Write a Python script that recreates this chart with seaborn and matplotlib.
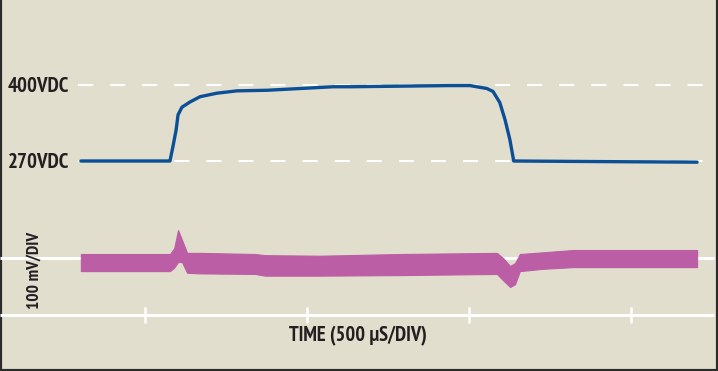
import numpy as np
import pandas as pd
import matplotlib
matplotlib.use("Agg")
import matplotlib.pyplot as plt
from matplotlib import font_manager as fm
import seaborn as sns

# ---- data ----
# Upper trace: DC bus voltage (V) vs time (us)
volt_time = [302, 577, 586, 596, 602, 614, 639, 670, 722, 784, 877, 979, 1081, 1134,
             1287, 1441, 1503, 1555, 1574, 1595, 1611, 1626, 1638, 1904, 2204]
volt_value = [270, 270, 294, 323, 349, 362, 371, 380, 386, 390, 391, 394, 397, 397,
              398, 399, 399, 394, 389, 370, 341, 307, 270, 269, 268]

# Lower trace: ripple (mV) vs time (us), upper and lower envelope of the noisy band
ripple_time = [302, 577, 590, 602, 614, 630, 670, 840, 870, 1040, 1287, 1586, 1605,
               1627, 1642, 1657, 1728, 1821, 2204]
ripple_upper = [7, 7, 17, 49, 32, 9, 9, 7, 5, 4, 7, 9, 0, -14, -9, 7, 10, 14, 14]
ripple_lower = [-23, -23, -17, -7, -7, -26, -27, -28, -31, -31, -30, -28, -39,
                -51, -46, -23, -19, -16, -16]

ref_levels = [400, 270]
ref_labels = ["400VDC", "270VDC"]
time_ticks = [500, 1000, 1500, 2000]
y_label = "100 mV/DIV"
x_label = "TIME (500 \u03bcS/DIV)"

BG = "#E2DECD"
BLUE = "#0B5096"
PINK = "#BC5EA5"
TXT = "#231F20"

sns.set_theme(style="white")
plt.rcParams["font.family"] = ["DejaVu Sans"]


def pick_condensed_bold():
    best = None
    for f in fm.fontManager.ttflist:
        name = f.name.lower()
        st = f.stretch
        if isinstance(st, str):
            st = fm.stretch_dict.get(st, 500)
        w = f.weight
        if isinstance(w, str):
            w = fm.weight_dict.get(w, 400)
        narrow = ("narrow" in name or "condensed" in name or st < 500)
        if not narrow or w < 600 or "italic" in f.style or "oblique" in f.style:
            continue
        if "mono" in name or "serif" in name.replace("sans", ""):
            continue
        if "cjk" in name:
            continue
        score = abs(st - 300) + abs(w - 700) / 10.0
        if "narrow" in name:
            score -= 300
        if best is None or score < best[0]:
            best = (score, f.fname)
    if best is None:
        return fm.FontProperties(family="DejaVu Sans", weight="bold")
    return fm.FontProperties(fname=best[1])


FP = pick_condensed_bold()


def fp(size):
    p = FP.copy()
    p.set_size(size)
    return p


fig = plt.figure(figsize=(7.18, 3.71), dpi=100, facecolor=BG)
ax = fig.add_axes([0, 0, 1, 1])
ax2 = fig.add_axes([0, 0, 1, 1], sharex=ax)
ax.set_facecolor(BG)
ax2.patch.set_visible(False)

# pixel-derived scales
us_per_px = 500 / 162.0
t0 = 500 - 145 * us_per_px
ax.set_xlim(t0, t0 + 718 * us_per_px)
v_per_px = 130 / 76.0
ax.set_ylim(270 - 210 * v_per_px, 270 + 161 * v_per_px)
mv_per_px = 100 / 57.0
ax2.set_ylim(-113 * mv_per_px, 258 * mv_per_px)

# dashed reference lines
for lvl in ref_levels:
    ax.plot([t0 + 78 * us_per_px, t0 + 703 * us_per_px], [lvl, lvl], color="white",
            lw=1.5, linestyle=(0, (7.2, 8.2)), zorder=1)

# solid white lines in the lower area
ax2.plot([t0, t0 + 714 * us_per_px], [0, 0], color="white", lw=2.2, zorder=1,
         solid_capstyle="butt")
ax2.plot([t0, t0 + 714 * us_per_px], [-100, -100], color="white", lw=2.2, zorder=1,
         solid_capstyle="butt")
for tt in time_ticks:
    ax2.plot([tt, tt], [-86, -114], color="white", lw=1.8, zorder=1,
             solid_capstyle="butt")

# traces
df_v = pd.DataFrame({"time": volt_time, "volt": volt_value})
sns.lineplot(data=df_v, x="time", y="volt", ax=ax, color=BLUE, lw=2.4, zorder=3,
             estimator=None, sort=False)
ax2.fill_between(ripple_time, ripple_lower, ripple_upper, color=PINK, lw=0.8,
                 edgecolor=PINK, zorder=3)

# labels
for lvl, lab in zip(ref_levels, ref_labels):
    ax.text(t0 + 8 * us_per_px, lvl - 1.5 * v_per_px, lab, ha="left", va="center",
            fontproperties=fp(15), color=TXT)
ax2.text(t0 + 35 * us_per_px, (258 - 270) * mv_per_px, y_label, rotation=90,
         ha="center", va="center", fontproperties=fp(12.5), color=TXT)
ax2.text(t0 + 358 * us_per_px, (258 - 336.5) * mv_per_px, x_label, ha="center",
         va="center", fontproperties=fp(14.8), color=TXT)

for a in (ax, ax2):
    a.set_xticks([])
    a.set_yticks([])
    a.set_xlabel("")
    a.set_ylabel("")
for s in ax2.spines.values():
    s.set_visible(False)
ax.spines["top"].set_visible(False)
for s in ("left", "right", "bottom"):
    ax.spines[s].set_color("#2B2B2B")
    ax.spines[s].set_linewidth(3)

fig.savefig("out.png", dpi=100, facecolor=BG)
